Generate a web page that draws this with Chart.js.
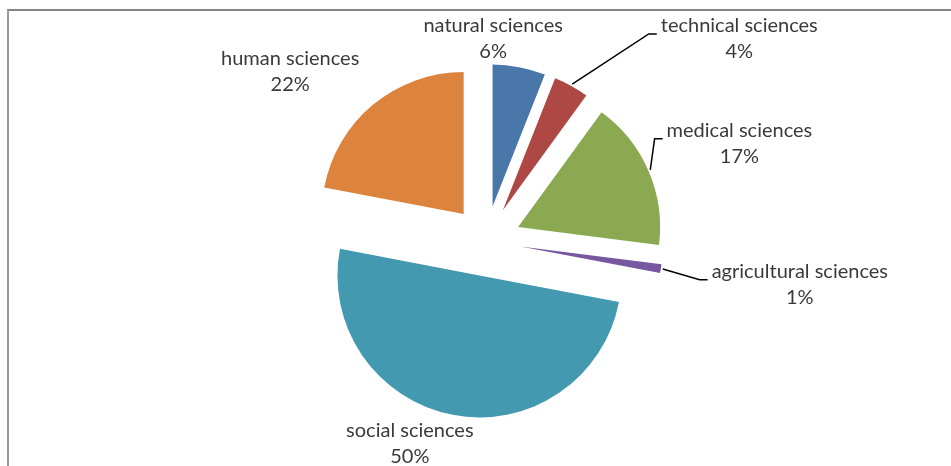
<!DOCTYPE html>
<html>
<head>
<meta charset="utf-8">
<script src="https://cdn.jsdelivr.net/npm/chart.js@4"></script>
<style>
  html, body { margin: 0; padding: 0; background: #ffffff; }
  #wrap { position: relative; width: 951px; height: 466px; overflow: hidden; }
  #frame { position: absolute; left: 7px; top: 9px; width: 960px; height: 470px;
           border-top: 2px solid #858585; border-left: 2px solid #9a9a9a; pointer-events: none; }
  canvas { position: absolute; left: 0; top: 0; }
</style>
</head>
<body>
<div id="wrap">
  <canvas id="c" width="951" height="466"></canvas>
  <div id="frame"></div>
</div>
<script>
// ---- data ----
const categories = ['natural sciences', 'technical sciences', 'medical sciences',
                    'agricultural sciences', 'social sciences', 'human sciences'];
const shares = [6, 4, 17, 1, 50, 22];
const percentLabels = ['6%', '4%', '17%', '1%', '50%', '22%'];

// ---- style ----
const sliceColors = ['#4A77AA', '#AE4845', '#8BA951', '#7657A0', '#4399B0', '#DC843D'];
const explodeDistance = 35;
const labelOffsets = [[-26, -29], [168, -47], [91, -27], [139, 16], [-43, 29], [-83, -33]];
const hasLeader = [false, true, true, true, false, false];
const labelFont = '20px Lato';
const labelColor = '#3a3a3a';
const lineGap = 26;

const explodePlugin = {
  id: 'explode',
  beforeDatasetDraw(chart, args) {
    const ctx = chart.ctx;
    args.meta.data.forEach(arc => {
      const mid = (arc.startAngle + arc.endAngle) / 2;
      ctx.save();
      ctx.translate(Math.cos(mid) * explodeDistance, Math.sin(mid) * explodeDistance);
      arc.draw(ctx, chart.chartArea);
      ctx.restore();
    });
    return false;
  }
};

const labelPlugin = {
  id: 'outerLabels',
  afterDatasetsDraw(chart) {
    const ctx = chart.ctx;
    const meta = chart.getDatasetMeta(0);
    ctx.save();
    ctx.font = labelFont;
    ctx.fillStyle = labelColor;
    ctx.textAlign = 'center';
    ctx.textBaseline = 'middle';
    meta.data.forEach((arc, i) => {
      const mid = (arc.startAngle + arc.endAngle) / 2;
      const R = arc.outerRadius + explodeDistance;
      const px = arc.x + Math.cos(mid) * R;
      const py = arc.y + Math.sin(mid) * R;
      const cx = px + labelOffsets[i][0];
      const cy = py + labelOffsets[i][1];
      const y1 = cy - lineGap / 2, y2 = cy + lineGap / 2;
      ctx.fillText(categories[i], cx, y1);
      ctx.fillText(percentLabels[i], cx, y2);
      if (hasLeader[i]) {
        const w = ctx.measureText(categories[i]).width;
        const left = cx - w / 2;
        const ly = y1 + 8;
        ctx.beginPath();
        ctx.strokeStyle = '#000000';
        ctx.lineWidth = 1.5;
        ctx.moveTo(px + Math.cos(mid) * 2, py + Math.sin(mid) * 2);
        ctx.lineTo(left - 12, ly);
        ctx.lineTo(left - 4, ly);
        ctx.stroke();
      }
    });
    ctx.restore();
  }
};

new Chart(document.getElementById('c'), {
  type: 'pie',
  data: {
    labels: categories,
    datasets: [{
      data: shares,
      backgroundColor: sliceColors,
      borderWidth: 0,
      radius: 142
    }]
  },
  options: {
    responsive: false,
    animation: false,
    layout: { padding: { left: 21, right: 0, top: 16, bottom: 0 } },
    plugins: { legend: { display: false }, tooltip: { enabled: false } }
  },
  plugins: [explodePlugin, labelPlugin]
});
</script>
</body>
</html>
